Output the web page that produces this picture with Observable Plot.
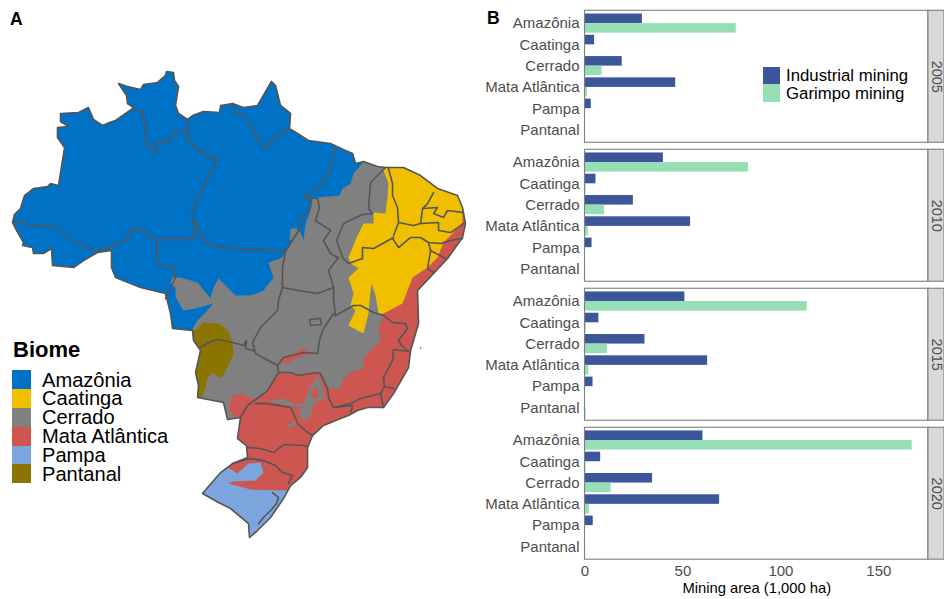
<!DOCTYPE html>
<html><head><meta charset="utf-8">
<script src="https://cdn.jsdelivr.net/npm/d3@7"></script>
<script src="https://cdn.jsdelivr.net/npm/@observablehq/plot@0.6"></script>
<style>
html,body{margin:0;padding:0;background:#fff;overflow:hidden}
#root{position:relative;width:944px;height:599px;font-family:"Liberation Sans",Arial,sans-serif;overflow:hidden}
#map,#bars{position:absolute;top:0}
#map{left:0}#bars{left:480px}
.tag{position:absolute;font-weight:bold;font-size:17.5px;line-height:1;color:#000}
#biomeLegend{position:absolute;left:12px;top:337px}
#biomeLegend .t{font-weight:bold;font-size:22px;line-height:25px;height:33px;margin-left:1px}
.row{display:flex;align-items:center}
#biomeLegend .row{height:18.9px}
#biomeLegend .sw{width:18.5px;height:18.9px;margin-right:11.5px}
#biomeLegend .lb{font-size:20.1px;line-height:18.9px;white-space:nowrap;padding-top:1px}
#typeLegend{position:absolute;left:763px;top:66.5px}
#typeLegend .row{height:17.7px}
#typeLegend .sw{width:17px;height:17.7px;margin-right:6px}
#typeLegend .lb{font-size:16.8px;line-height:17.7px;white-space:nowrap;padding-top:1px}
svg{overflow:visible}
</style></head><body>
<div id="root">
<div id="map"></div><div id="bars"></div>
<div class="tag" style="left:10px;top:11px">A</div>
<div class="tag" style="left:487px;top:10px">B</div>
<div id="biomeLegend"></div><div id="typeLegend"></div>
</div>
<script>
// ---- Panel B values (1,000 ha)
const biomes = ["Amazônia","Caatinga","Cerrado","Mata Atlântica","Pampa","Pantanal"];
const years = [2005,2010,2015,2020];
const miningTypes = ["Industrial mining","Garimpo mining"];
const industrial2005 = [29.3,4.9,19,46.3,3.2,0];
const industrial2010 = [40,5.6,24.7,53.9,3.6,0];
const industrial2015 = [51,7.1,30.6,62.6,4.1,0];
const industrial2020 = [60.2,8,34.5,68.7,4.2,0];
const garimpo2005 = [77.2,0.3,8.7,1.2,0,0];
const garimpo2010 = [83.5,0.5,9.9,1.7,0,0.3];
const garimpo2015 = [113.4,0.6,11.4,2,0,0.5];
const garimpo2020 = [167,0.5,13.3,2.2,0,0.3];
const xTicks = [0,50,100,150];

// ---- Panel A geography: [longitude, latitude]
const biomeColors = ["#0072c6","#f0c000","#808080","#cd5650","#7ba5dc","#8b7500"];
const brazilOutline = [[-74,-7.42],[-73.83,-6.75],[-73.31,-6.25],[-72.96,-5.17],[-72.18,-4.58],[-70.97,-4.42],[-70.71,-4.17],[-70.02,-4.33],[-69.5,-1.16],[-70.11,-0.33],[-70.11,0.51],[-69.16,0.59],[-69.85,1.01],[-69.85,1.68],[-68.29,1.76],[-67.43,2.18],[-66.99,1.18],[-66.21,0.68],[-65.61,0.93],[-65.09,1.1],[-63.97,1.85],[-63.53,2.18],[-64.05,2.51],[-64.14,3.18],[-64.83,4.18],[-64.05,3.93],[-62.93,3.68],[-62.67,4.1],[-61.46,4.27],[-60.77,4.85],[-60.68,5.19],[-60.07,5.1],[-59.99,4.43],[-59.64,3.93],[-59.9,2.35],[-59.64,1.68],[-58.86,1.18],[-58.43,1.51],[-57.48,1.85],[-56.09,1.76],[-56,2.35],[-54.97,2.51],[-54.02,2.18],[-52.81,2.35],[-51.6,4.35],[-51.25,4.02],[-50.82,2.35],[-49.95,1.68],[-50.04,0.43],[-48.4,-0.57],[-46.49,-0.83],[-45.2,-1.41],[-44.59,-1.66],[-44.33,-2.5],[-43.64,-2.33],[-42.43,-2.75],[-41.74,-2.83],[-40.18,-2.83],[-38.71,-3.5],[-37.24,-4.58],[-35.51,-5.17],[-35.08,-6.17],[-34.82,-7.51],[-35.08,-8.67],[-36.37,-10.43],[-37.58,-11.68],[-38.97,-13.1],[-38.88,-15.86],[-39.57,-18.11],[-39.75,-19.53],[-41.04,-21.7],[-41.91,-22.87],[-43.29,-22.87],[-44.16,-23.12],[-44.94,-23.54],[-45.63,-23.79],[-47.1,-24.37],[-48.05,-25.21],[-48.48,-26.21],[-48.48,-27.88],[-49.09,-28.71],[-49.95,-29.38],[-50.56,-30.47],[-51.68,-32.05],[-52.81,-33.14],[-53.5,-33.72],[-53.59,-32.56],[-55.14,-31.3],[-56.18,-30.8],[-57.57,-30.05],[-56,-28.3],[-54.97,-27.55],[-53.67,-27.04],[-53.76,-26.04],[-54.54,-25.46],[-54.28,-23.7],[-55.4,-23.87],[-55.75,-22.45],[-58,-22.03],[-57.91,-21.03],[-58.17,-19.95],[-57.74,-18.11],[-58.34,-17.27],[-58.43,-16.44],[-60.16,-16.27],[-60.33,-15.02],[-60.77,-13.35],[-62.93,-12.85],[-65.09,-12.01],[-65.44,-11.18],[-65.44,-9.76],[-66.65,-9.93],[-67.86,-10.6],[-68.72,-11.18],[-70.54,-11.01],[-70.63,-9.59],[-71.32,-10.01],[-72.18,-10.01],[-72.27,-9.51],[-73.13,-9.34],[-73.05,-9.09],[-73.74,-7.92]];
const amazoniaInner = [[-43.9,-2.66],[-44.5,-3.33],[-44.76,-4.17],[-45.45,-4.58],[-45.71,-5.17],[-47.53,-5.33],[-48.05,-5.42],[-48.22,-6.42],[-48.66,-7.51],[-48.83,-8.93],[-49.09,-8.26],[-49.43,-7.92],[-49.95,-7.92],[-50.04,-8.93],[-49.69,-8.76],[-50.39,-9.76],[-50.65,-10.34],[-51.86,-10.76],[-51.42,-12.01],[-52.29,-13.1],[-53.41,-13.52],[-54.71,-13.52],[-55.32,-12.93],[-56.18,-12.1],[-56.61,-12.85],[-56.87,-13.77],[-58,-12.43],[-59.47,-12.01],[-60.16,-12.01],[-60.33,-12.51],[-59.9,-12.85],[-59.9,-13.68],[-59.21,-14.77],[-58.17,-14.6],[-56.61,-14.18],[-57.31,-14.94],[-58,-15.6],[-58.43,-16.27]];
const caatingaInner = [[-35.08,-7.42],[-35.94,-8.34],[-36.72,-9.09],[-37.24,-10.34],[-38.1,-11.18],[-39.4,-12.01],[-39.83,-13.1],[-40.27,-14.18],[-41.91,-15.02],[-42.34,-15.02],[-42.6,-13.52],[-42.95,-12.51],[-43.12,-13.93],[-43.21,-15.02],[-43.64,-16.69],[-44.94,-16.02],[-44.33,-14.77],[-44.76,-14.35],[-44.5,-13.35],[-44.94,-12.01],[-44.07,-11.26],[-44.76,-10.85],[-44.94,-10.34],[-44.16,-8.51],[-43.64,-7.51],[-42.77,-7.51],[-42.77,-6.59],[-41.74,-6.67],[-41.56,-5.33],[-41.48,-4.17],[-41.91,-3.08]];
const mataInner = [[-54.54,-23.79],[-55.32,-23.12],[-54.97,-21.87],[-54.11,-21.7],[-53.41,-22.12],[-52.72,-22.03],[-51.94,-21.45],[-51.68,-20.78],[-50.99,-19.95],[-50.21,-19.95],[-49.26,-20.2],[-48.48,-19.95],[-47.36,-20.03],[-47.1,-20.61],[-46.75,-21.28],[-45.63,-21.28],[-45.37,-20.45],[-44.76,-19.95],[-44.33,-19.78],[-43.64,-19.61],[-43.64,-18.78],[-43.03,-18.11],[-42.17,-17.27],[-42.34,-16.19],[-41.91,-15.19],[-41.74,-14.35],[-40.44,-12.68],[-38.71,-10.6],[-36.11,-7.67]];
const mataSliver = [[-50.99,-19.11],[-50.13,-18.53],[-48.83,-17.94],[-48.48,-18.28],[-47.7,-18.36],[-49.35,-18.7],[-50.21,-19.2]];
const mataSpeck = [[-48.22,-21.45],[-47.62,-21.2],[-47.53,-22.03],[-48.05,-22.12]];
const cerradoPatchA = [[-51.86,-22.28],[-50.56,-22.12],[-49.69,-22.54],[-48.83,-22.54],[-49.09,-22.87],[-50.13,-22.7],[-51.08,-22.54]];
const cerradoPatchB = [[-48.83,-22.54],[-48.4,-21.45],[-47.62,-20.2],[-47.36,-20.45],[-47.1,-21.62],[-46.92,-22.12],[-47.53,-22.28],[-48.05,-22.7],[-48.22,-23.7],[-48.83,-23.96],[-49.26,-23.29]];
const cerradoPatchC = [[-50.39,-24.37],[-49.35,-23.96],[-49.35,-24.2],[-50.13,-24.54]];
const pampaInner = [[-55.4,-27.88],[-54.54,-28.38],[-54.28,-28.13],[-53.59,-27.55],[-52.55,-27.46],[-52.29,-28.3],[-52.98,-28.97],[-54.97,-29.05],[-55.32,-29.22],[-53.41,-29.72],[-50.21,-29.8]];
const pantanalInner = [[-57.57,-15.77],[-56.18,-15.85],[-55.32,-16.44],[-54.97,-17.44],[-54.88,-18.36],[-55.32,-19.36],[-55.75,-20.2],[-56.18,-20.36],[-56.7,-19.95],[-57.13,-20.45],[-57.57,-22.03]];
const pantanalEnd = [[-57.91,-16.27]];
const islands = [[-38.7,-17.9]];
const stateBorders = [
 [[-73.91,-7.26],[-72.62,-7.59],[-70.11,-7.84],[-68.55,-9.09],[-66.65,-9.84],[-66.13,-9.51],[-65.7,-9.59],[-64.92,-9.18],[-64.23,-9.01],[-63.62,-8.01],[-62.76,-8.01],[-61.89,-8.84],[-61.54,-8.84],[-61.46,-10.93],[-59.99,-11.18],[-59.9,-12.01],[-60.77,-13.77]],
 [[-61.54,-8.84],[-58.34,-8.84],[-58.26,-7.26],[-58.52,-6.75],[-58.17,-5.84],[-56.27,-2.08],[-56.18,-2.08]],
 [[-63.53,2.1],[-62.76,1.85],[-62.32,-0.58],[-62.5,-0.83],[-61.63,-1.58],[-61.54,-0.83],[-60.94,-0.58],[-60.51,-0.83],[-60.07,0.18],[-58.86,0.18]],
 [[-58.86,1.18],[-58.86,-0.32],[-58.17,-1.24],[-56.61,-2.16],[-56.18,-2.08]],
 [[-58.26,-7.26],[-58.17,-7.26],[-57.74,-8.51],[-56.7,-9.43],[-54.28,-9.59],[-50.39,-9.84]],
 [[-54.88,2.51],[-54.71,1.76],[-53.67,1.26],[-52.98,-0.16],[-52.12,-1.24],[-51.42,-0.41],[-50.13,0.43]],
 [[-46.06,-1.24],[-46.75,-3.33],[-47.36,-4.33],[-48.74,-5.33],[-48.22,-5.59],[-48.22,-6.17],[-49.26,-7.26],[-49.26,-8.09],[-50.39,-9.84]],
 [[-48.74,-5.33],[-47.62,-5.42],[-47.45,-6.17],[-47.79,-7.26],[-46.49,-8.09],[-47.1,-8.93],[-46.49,-10.01],[-45.89,-10.34]],
 [[-41.74,-2.83],[-43.03,-4.08],[-43.21,-6.25],[-42.86,-6.67],[-43.73,-6.75],[-45.37,-7.51],[-45.97,-8.93],[-45.45,-10.34],[-44.94,-10.85],[-43.73,-10.43],[-43.73,-9.51],[-42.77,-9.59],[-41.04,-8.67]],
 [[-45.8,-10.34],[-46.67,-11.43],[-46.23,-12.85],[-46.23,-13.93],[-46.06,-15.19]],
 [[-50.65,-12.85],[-49.26,-13.1],[-47.62,-13.35],[-46.23,-12.85]],
 [[-50.39,-9.84],[-50.65,-11.18],[-50.65,-12.85],[-50.99,-13.93],[-51.08,-14.77],[-52.55,-16.19],[-53.24,-17.44],[-52.98,-18.36],[-51.08,-19.36]],
 [[-57.74,-17.86],[-56.87,-17.36],[-56.18,-17.19],[-54.97,-17.44],[-54.02,-17.69],[-53.76,-17.27],[-53.85,-17.94],[-53.15,-18.11]],
 [[-51.08,-19.36],[-50.99,-19.95],[-51.94,-21.45],[-52.72,-22.03],[-53.67,-22.7],[-54.28,-23.7]],
 [[-51.08,-19.36],[-50.56,-18.69],[-48.83,-18.28],[-47.62,-18.36],[-47.45,-17.27],[-47.19,-16.44],[-46.23,-15.02],[-46.06,-15.19]],
 [[-48.31,-15.52],[-47.36,-15.44],[-47.27,-15.94],[-48.22,-16.02],[-48.31,-15.52]],
 [[-46.06,-15.19],[-44.5,-14.35],[-43.9,-14.35],[-42.77,-14.94],[-41.91,-15.19],[-41.13,-15.77],[-40.01,-15.86],[-39.83,-16.27],[-40.61,-17.27],[-40.35,-17.69],[-39.75,-18.19]],
 [[-39.75,-18.19],[-41.04,-18.03],[-41.13,-18.95],[-41.91,-20.36],[-41.82,-21.11],[-41.04,-21.28]],
 [[-41.82,-21.11],[-42.17,-21.7],[-43.9,-22.12],[-44.76,-22.54],[-46.23,-22.87],[-46.67,-22.03],[-46.75,-21.28],[-47.1,-20.61],[-47.36,-20.03],[-47.62,-19.95],[-49.26,-20.2],[-49.95,-19.95],[-50.99,-19.95]],
 [[-46.23,-22.87],[-44.59,-22.7],[-44.76,-23.29]],
 [[-42.17,-21.7],[-41.91,-22.87]],
 [[-52.98,-22.54],[-51.94,-22.54],[-49.95,-22.87],[-49.69,-23.37],[-49.35,-24.2],[-48.48,-24.95],[-48.05,-25.21]],
 [[-53.67,-26.21],[-52.55,-26.29],[-51.42,-26.63],[-50.56,-25.96],[-48.83,-26.04],[-48.48,-26.13]],
 [[-54.97,-27.55],[-53.41,-27.13],[-52.29,-27.3],[-51.25,-27.71],[-50.65,-28.3],[-49.78,-28.55],[-50.13,-29.21]],
 [[-51.51,-29.97],[-50.99,-30.38],[-51.16,-30.88],[-51.68,-31.47],[-52.29,-32.05],[-52.72,-32.56]],
 [[-41.48,-2.91],[-41.13,-4.17],[-41.13,-5.17],[-40.7,-6.17],[-40.61,-7.42],[-41.04,-8.51]],
 [[-37.58,-4.92],[-38.1,-5.84],[-38.53,-6.25],[-38.71,-7.51],[-39.31,-7.67],[-40.61,-7.42]],
 [[-38.53,-6.25],[-37.24,-6.17],[-37.58,-6.67],[-36.72,-7],[-36.37,-6.42],[-35.08,-6.59]],
 [[-38.71,-7.51],[-37.15,-7.42],[-37.15,-8.09],[-36.11,-8.26],[-34.99,-7.51]],
 [[-35.08,-8.76],[-36.11,-8.93],[-36.98,-9.18],[-38.02,-9.09],[-38.71,-8.67],[-39.57,-8.67],[-40.61,-9.51],[-41.13,-8.76]],
 [[-38.02,-9.09],[-37.84,-9.76],[-36.54,-10.43]],
 [[-37.84,-9.76],[-38.1,-11.26],[-37.58,-11.6]]
];

// ---- Panel A
const poly = (pts, fill) => Plot.line(pts, {x: d => d[0], y: d => d[1], fill, stroke: "none"});
const [cAm, cCa, cCe, cMa, cPa, cPt] = biomeColors;
const amazonia = [...brazilOutline.slice(103), ...brazilOutline.slice(0, 55), ...amazoniaInner];
const caatinga = [...brazilOutline.slice(56, 62), ...caatingaInner];
const mata = [...brazilOutline.slice(61, 96), ...mataInner];
const pampa = [...brazilOutline.slice(82, 91), ...pampaInner];
const pantanal = [...pantanalInner, ...brazilOutline.slice(98, 104), ...pantanalEnd];
const borderRows = [[...brazilOutline, brazilOutline[0]], ...stateBorders]
  .flatMap((line, i) => line.map(p => ({lon: p[0], lat: p[1], border: i})));

document.getElementById("map").append(Plot.plot({
  width: 480, height: 599, margin: 0,
  x: {domain: [-74, -34.82], range: [12, 465], axis: null},
  y: {domain: [5.27, -33.72], range: [70, 537], axis: null},
  marks: [
    poly(brazilOutline, cCe),
    poly(amazonia, cAm),
    poly(mata, cMa),
    poly(mataSliver, cMa),
    poly(cerradoPatchA, cCe),
    poly(cerradoPatchB, cCe),
    poly(cerradoPatchC, cCe),
    poly(mataSpeck, cMa),
    poly(caatinga, cCa),
    poly(pampa, cPa),
    poly(pantanal, cPt),
    Plot.line(borderRows, {x: "lon", y: "lat", z: "border", stroke: "#555", strokeWidth: 1.6, strokeLinejoin: "round"}),
    Plot.dot(islands, {x: d => d[0], y: d => d[1], r: 0.8, fill: "#555"})
  ]
}));

// ---- Panel B
const seriesByYear = {
  2005: [industrial2005, garimpo2005], 2010: [industrial2010, garimpo2010],
  2015: [industrial2015, garimpo2015], 2020: [industrial2020, garimpo2020]
};
const rows = years.flatMap(year => miningTypes.flatMap((type, t) =>
  biomes.map((biome, b) => ({year, type, biome, area: seriesByYear[year][t][b]}))));
const typeColors = ["#3b5699", "#96deb4"];
const axisColor = "#4d4d4d", panelStroke = "#7f7f7f";
const panelEnd = 175.3, stripEnd = 183.5;

document.getElementById("bars").append(Plot.plot({
  width: 464, height: 599,
  marginLeft: 104.5, marginRight: 0, marginTop: 10.3, marginBottom: 39.8,
  style: {fontFamily: '"Liberation Sans",Arial,sans-serif', background: "transparent"},
  x: {domain: [0, stripEnd], label: null},
  y: {domain: biomes, paddingInner: 0.1, paddingOuter: 0.15, round: false, label: null},
  fy: {domain: years, paddingInner: 0.0504, paddingOuter: 0, round: false, label: null, axis: null},
  marks: [
    Plot.barX(rows.filter(d => d.type === miningTypes[0]), {x: "area", y: "biome", fy: "year", fill: typeColors[0], insetBottom: 9.6}),
    Plot.barX(rows.filter(d => d.type === miningTypes[1]), {x: "area", y: "biome", fy: "year", fill: typeColors[1], insetTop: 9.6}),
    Plot.rect(years, {x1: 0, x2: panelEnd, fy: d => d, fill: "none", stroke: panelStroke, strokeWidth: 1.1}),
    Plot.rect(years, {x1: panelEnd, x2: stripEnd, fy: d => d, fill: "#d9d9d9", stroke: panelStroke, strokeWidth: 1.1}),
    Plot.text(years, {x: (panelEnd + stripEnd) / 2, fy: d => d, text: d => String(d), frameAnchor: "middle", rotate: 90, fontSize: 14.5, fill: axisColor}),
    Plot.axisY({tickSize: 0, tickPadding: 5.5, fontSize: 15, color: axisColor, label: null}),
    Plot.axisX({ticks: xTicks, tickSize: 0, tickPadding: 5.5, fontSize: 15, color: axisColor, label: null}),
    Plot.text(["Mining area (1,000 ha)"], {x: 87.7, frameAnchor: "bottom", dy: 33.5, text: d => d, fontSize: 14.8, fill: "#000", facetAnchor: "bottom"})
  ]
}));

// ---- Legends
const fillLegend = (id, title, names, colors) => {
  const box = d3.select(id);
  if (title) box.append("div").attr("class", "t").text(title);
  names.forEach((n, i) => {
    const r = box.append("div").attr("class", "row");
    r.append("div").attr("class", "sw").style("background", colors[i]);
    r.append("div").attr("class", "lb").text(n);
  });
};
fillLegend("#biomeLegend", "Biome", biomes, biomeColors);
fillLegend("#typeLegend", null, miningTypes, typeColors);
</script>
</body></html>
